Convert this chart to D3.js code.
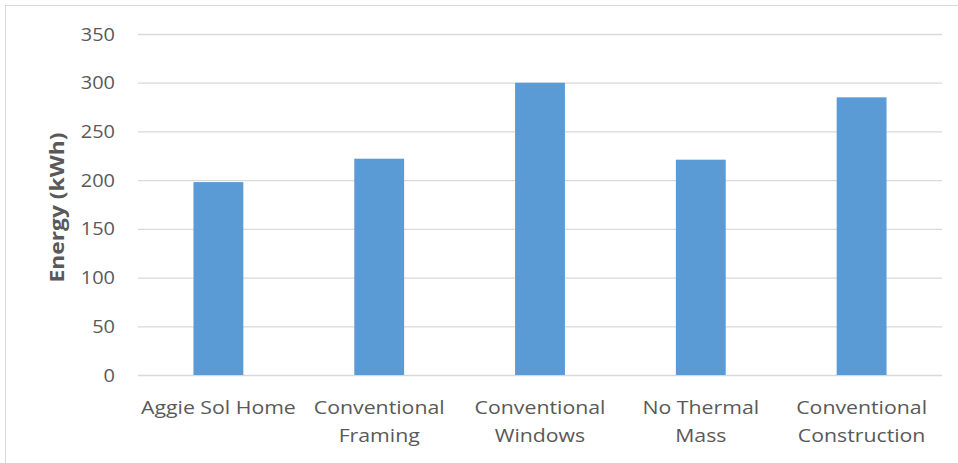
<!DOCTYPE html>
<html>
<head>
<meta charset="utf-8">
<script src="https://cdn.jsdelivr.net/npm/d3@7"></script>
<style>
  html, body { margin: 0; padding: 0; background: #fff; }
  svg { display: block; }
</style>
</head>
<body>
<svg id="chart" width="958" height="463"></svg>
<script>
// Simulated energy use for each house variant
const categories = [
  ["Aggie Sol Home"],
  ["Conventional", "Framing"],
  ["Conventional", "Windows"],
  ["No Thermal", "Mass"],
  ["Conventional", "Construction"]
];
const energyKWh = [198, 222, 300, 221, 285];
const yTicks = [0, 50, 100, 150, 200, 250, 300, 350];
const yTitle = "Energy (kWh)";

const svg = d3.select("#chart");
const W = 958, H = 463;
const margin = { left: 138, right: 16, top: 34, bottom: 88 };
const font = "'Open Sans', 'Liberation Sans', sans-serif";
const textColor = "#595959";
const stretch = 1.12; // horizontal widening to mimic the condensed-but-wide label face

// Chart area border
svg.append("rect")
  .attr("x", 5.5).attr("y", 5.5)
  .attr("width", W).attr("height", H)
  .attr("fill", "#fff").attr("stroke", "#d9d9d9").attr("stroke-width", 1);

const x = d3.scaleBand()
  .domain(categories.map((d, i) => i))
  .range([margin.left, W - margin.right])
  .paddingInner(0.69).paddingOuter(0.345);

const y = d3.scaleLinear()
  .domain([0, 350])
  .range([H - margin.bottom, margin.top]);

// Horizontal gridlines and tick labels
const yAxis = d3.axisLeft(y)
  .tickValues(yTicks)
  .tickSize(-(W - margin.right - margin.left))
  .tickPadding(23)
  .tickFormat(d3.format("d"));

const gy = svg.append("g")
  .attr("transform", `translate(${margin.left},0)`)
  .call(yAxis);
gy.select(".domain").remove();
gy.selectAll(".tick line").attr("stroke", "#d9d9d9").attr("stroke-width", 1.3);
gy.selectAll(".tick text")
  .attr("fill", textColor)
  .style("font-family", font)
  .style("font-size", "19px")
  .attr("transform", function() {
    const tx = +d3.select(this).attr("x");
    return `translate(${tx},0) scale(1.05,1) translate(${-tx},0)`;
  });

// Bars
svg.append("g").selectAll("rect")
  .data(energyKWh)
  .join("rect")
  .attr("x", (d, i) => x(i))
  .attr("width", x.bandwidth())
  .attr("y", d => y(d))
  .attr("height", d => y(0) - y(d))
  .attr("fill", "#5b9bd5");

// Category labels (wrapped onto two lines)
const gx = svg.append("g");
categories.forEach((lines, i) => {
  const t = gx.append("text")
    .attr("transform", `translate(${x(i) + x.bandwidth() / 2},0) scale(${stretch},1)`)
    .attr("text-anchor", "middle")
    .attr("fill", textColor)
    .style("font-family", font)
    .style("font-size", "19px");
  lines.forEach((ln, j) => {
    t.append("tspan")
      .attr("x", 0)
      .attr("y", 414 + j * 28)
      .text(ln);
  });
});

// Y-axis title
svg.append("text")
  .attr("transform", `translate(64,${(y(0) + y(350)) / 2 + 3}) rotate(-90) scale(1.2,1)`)
  .attr("text-anchor", "middle")
  .attr("fill", textColor)
  .style("font-family", font)
  .style("font-size", "19px")
  .style("font-weight", "bold")
  .text(yTitle);
</script>
</body>
</html>
